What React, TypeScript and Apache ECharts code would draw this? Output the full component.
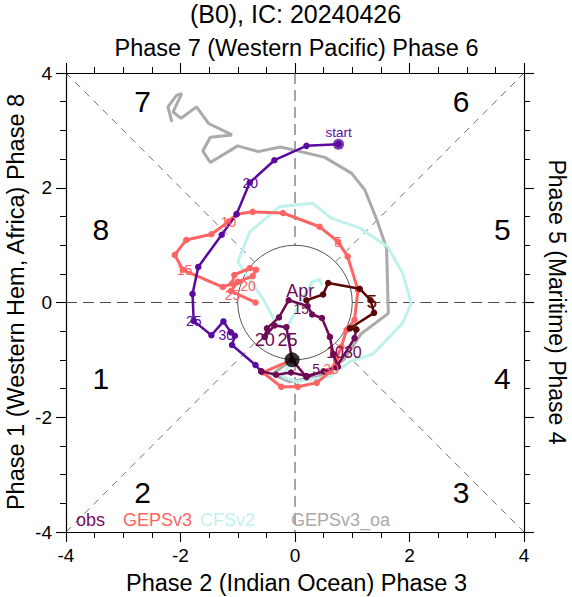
import React, { useEffect, useRef } from "react";
import * as echarts from "echarts";

const FONT = "'Liberation Sans', Arial, Helvetica, sans-serif";

const TITLE = "(B0), IC: 20240426";
const TOP_LABEL = "Phase 7 (Western Pacific) Phase 6";
const BOTTOM_LABEL = "Phase 2 (Indian Ocean) Phase 3";
const LEFT_LABEL = "Phase 1 (Western Hem, Africa) Phase 8";
const RIGHT_LABEL = "Phase 5 (Maritime) Phase 4";

const AXIS_MIN = -4;
const AXIS_MAX = 4;
const AXIS_STEP = 2;

const legendNames = ["obs", "GEPSv3", "CFSv2", "GEPSv3_oa"];

// observed RMM track, one segment per month
const obsMarch: number[][] = [
  [0.76, 2.76], [0.2, 2.73], [-0.36, 2.48], [-0.79, 2.09], [-1.02, 1.54], [-1.28, 1.18],
  [-1.69, 0.62], [-1.79, 0.15], [-1.77, -0.32], [-1.46, -0.57], [-1.25, -0.33], [-1.12, -0.52],
  [-1.05, -0.58], [-1.1, -0.74], [-0.69, -1.09], [-0.59, -1.2],
];
const obsApril: number[][] = [
  [-0.59, -1.2], [-0.33, -1.26], [-0.07, -1.22], [0.2, -1.28], [0.5, -1.2], [0.75, -1.12],
  [0.67, -0.9], [0.61, -0.6], [0.47, -0.27], [0.3, -0.21], [0.22, -0.06], [-0.11, 0.04],
  [-0.28, -0.26], [-0.49, -0.45], [-0.53, -0.6], [-0.36, -0.4], [-0.15, -0.43], [-0.05, -1.0],
  [0.2, -1.3], [0.72, -1.13], [1.04, -0.62], [1.07, -0.47],
];
const obsMay: number[][] = [
  [1.07, -0.47], [0.96, -0.45], [1.38, -0.18], [1.32, 0.04], [1.13, 0.24], [0.58, 0.34],
  [0.49, 0.14], [0.2, 0.04],
];
const icPoint: number[] = [-0.05, -1.0];

// forecasts
const gepsv3: number[][] = [
  [-0.05, -1.0], [-0.56, -1.22], [-0.24, -1.47], [0.05, -1.47], [0.38, -1.4], [0.62, -1.2],
  [0.72, -1.0], [0.81, -0.77], [0.9, -0.48], [1.04, -0.3], [1.1, 0.22], [0.92, 0.8],
  [0.75, 1.06], [0.43, 1.32], [-0.21, 1.56], [-0.74, 1.58], [-1.02, 1.54], [-1.16, 1.41],
  [-1.46, 1.19], [-1.9, 1.09], [-2.1, 0.83], [-1.96, 0.57], [-1.26, 0.27], [-1.1, 0.33],
  [-1.06, 0.48], [-0.79, 0.6], [-0.68, 0.57], [-0.74, 0.46], [-1.0, 0.36], [-1.12, 0.2],
  [-0.69, 0.0],
];
const cfsv2: number[][] = [
  [-0.05, -1.0], [-0.22, -1.29], [0.02, -1.38], [0.6, -1.29], [0.98, -1.02], [1.36, -0.9],
  [1.88, -0.36], [2.03, -0.01], [1.88, 0.51], [1.62, 0.97], [1.13, 1.3], [0.63, 1.47],
  [0.31, 1.73], [-0.27, 1.67], [-0.79, 1.23], [-1.0, 0.71], [-0.85, 0.48], [-0.55, 0.05],
  [-0.33, -0.36], [-0.15, -0.45], [0.3, 0.36], [0.43, 0.4], [0.47, 0.3],
];
const gepsv3oa: number[][] = [
  [-0.05, -1.0], [-0.4, -1.25], [-0.1, -1.38], [0.4, -1.3], [0.85, -1.0], [1.15, -0.55],
  [1.63, -0.19], [1.6, 0.94], [1.43, 1.44], [1.22, 1.96], [0.99, 2.25], [0.52, 2.53],
  [-0.03, 2.66], [-0.26, 2.71], [-0.64, 2.63], [-1.0, 2.73], [-1.48, 2.44], [-1.61, 2.64],
  [-1.48, 2.88], [-1.1, 2.92], [-1.51, 3.12], [-1.72, 3.41], [-1.99, 3.21], [-2.13, 3.32],
  [-1.98, 3.64], [-2.07, 3.61], [-2.22, 3.41], [-2.15, 3.15],
];

// day labels [text, x, y]
const marchLabels: [string, number, number][] = [
  ["20", -0.78, 2.09], ["25", -1.77, -0.33], ["30", -1.2, -0.56],
];
const startLabel: [string, number, number] = ["start", 0.76, 2.96];
const aprilLabels: [string, number, number][] = [
  ["Apr", 0.09, 0.2], ["20", -0.53, -0.65], ["25", -0.13, -0.65],
];
const aprilMidLabels: [string, number, number][] = [["10", 0.7, -0.88], ["30", 1.01, -0.88]];
const aprilSmallLabels: [string, number, number][] = [["15", 0.11, -0.12], ["5", 0.37, -1.16]];
const mayLabels: [string, number, number][] = [["5", 1.34, 0.02]];
const gepsLabels: [string, number, number][] = [
  ["5", 0.75, 1.06], ["10", -1.16, 1.41], ["15", -1.93, 0.57], ["25", -1.09, 0.13],
  ["20", -0.82, 0.28], ["30", 0.63, -1.16],
];
const phaseLabels: [string, number, number][] = [
  ["7", -2.66, 3.51], ["6", 2.9, 3.51], ["8", -3.39, 1.28], ["5", 3.62, 1.28],
  ["1", -3.39, -1.33], ["4", 3.62, -1.33], ["2", -2.66, -3.32], ["3", 2.9, -3.32],
];

// guide lines
const axisSegments: number[][][] = [
  [[-4, 0], [-1, 0]], [[1, 0], [4, 0]], [[0, 4], [0, 1]], [[0, -1], [0, -4]],
];
const diagonalSegments: number[][][] = [
  [[-4, 4], [-0.71, 0.71]], [[0.71, 0.71], [4, 4]], [[-4, -4], [-0.71, -0.71]], [[0.71, -0.71], [4, -4]],
];

const C_MARCH = "#5a0a9e";
const C_APRIL = "#6e0a55";
const C_MAY = "#5a0606";
const C_OBS_LEGEND = "#7a0a5e";
const C_GEPS = "#ff6464";
const C_CFS = "#bff2ec";
const C_OA = "#aaaaaa";

function axisCommon(showLabel: boolean) {
  return {
    type: "value" as const,
    min: AXIS_MIN,
    max: AXIS_MAX,
    interval: AXIS_STEP,
    axisLine: { show: true, onZero: false, lineStyle: { color: "#000", width: 1.2 } },
    axisTick: { show: true, inside: false, length: 10, lineStyle: { color: "#000", width: 1.1 } },
    minorTick: { show: true, splitNumber: 4, length: 6, lineStyle: { color: "#000", width: 1 } },
    splitLine: { show: false },
    minorSplitLine: { show: false },
    axisLabel: { show: showLabel, color: "#000", fontSize: 19, fontFamily: FONT, margin: 14 },
  };
}

export default function App() {
  const ref = useRef<HTMLDivElement>(null);
  useEffect(() => {
    const el = ref.current!;
    const chart = echarts.init(el, null, { renderer: "svg" });

    const trackSeries = (data: number[][], color: string, width: number, symbols: boolean, z: number) => ({
      type: "line",
      data,
      xAxisIndex: 0,
      yAxisIndex: 0,
      symbol: "circle",
      symbolSize: 6.5,
      showSymbol: symbols,
      showAllSymbol: true,
      lineStyle: { color, width },
      itemStyle: { color },
      z,
      silent: true,
      clip: false,
    });

    const series: any[] = [];
    axisSegments.forEach((seg) =>
      series.push({
        type: "line", data: seg, showSymbol: false, silent: true, z: 1,
        lineStyle: { color: "#4a4a4a", width: 1, type: [11, 6] },
      })
    );
    diagonalSegments.forEach((seg) =>
      series.push({
        type: "line", data: seg, showSymbol: false, silent: true, z: 1,
        lineStyle: { color: "#333", width: 0.7, type: [7, 6] },
      })
    );
    series.push(trackSeries(gepsv3oa, C_OA, 3, false, 3));
    series.push(trackSeries(cfsv2, C_CFS, 3, false, 4));
    series.push(trackSeries(gepsv3, C_GEPS, 3, true, 5));
    series.push(trackSeries(obsMarch, C_MARCH, 2.5, true, 6));
    series.push(trackSeries(obsApril, C_APRIL, 2.5, true, 7));
    series.push(trackSeries(obsMay, C_MAY, 2.5, true, 8));
    series.push({
      type: "scatter", data: [obsMarch[0]], symbolSize: 11, itemStyle: { color: C_MARCH }, z: 9, silent: true,
    });
    series.push({
      type: "scatter", data: [icPoint], symbolSize: 15, itemStyle: { color: "#000" }, z: 9, silent: true,
    });

    chart.setOption({
      animation: false,
      backgroundColor: "#fff",
      grid: { left: 66, top: 73, width: 458, height: 459, containLabel: false, outerBoundsMode: "none" },
      xAxis: [
        { ...axisCommon(true), position: "bottom" },
        { ...axisCommon(false), position: "top" },
      ],
      yAxis: [
        { ...axisCommon(true), position: "left" },
        { ...axisCommon(false), position: "right" },
      ],
      series,
    });

    const toPx = (p: number[]) => chart.convertToPixel({ gridIndex: 0 }, p) as number[];
    const c0 = toPx([0, 0]);
    const c1 = toPx([1, 0]);
    const r = Math.abs(c1[0] - c0[0]);

    const txt = (text: string, x: number, y: number, color: string, size: number, extra: any = {}) => ({
      type: "text",
      x,
      y,
      z: 100,
      silent: true,
      ...extra,
      style: {
        text,
        fill: color,
        fontSize: size,
        fontFamily: FONT,
        align: extra.align || "center",
        verticalAlign: "middle",
        textAlign: extra.align || "center",
        textVerticalAlign: "middle",
      },
    });
    const dataTexts = (list: [string, number, number][], color: string, size: number) =>
      list.map(([t, x, y]) => {
        const p = toPx([x, y]);
        return txt(t, p[0], p[1], color, size);
      });

    const graphics: any[] = [
      {
        type: "circle",
        z: 1,
        silent: true,
        shape: { cx: c0[0], cy: c0[1], r },
        style: { fill: "none", stroke: "#555", lineWidth: 1 },
      },
      txt(TITLE, 295.5, 14, "#000", 25),
      txt(TOP_LABEL, 296.5, 48, "#000", 23.5),
      txt(BOTTOM_LABEL, 296.5, 583, "#000", 23.5),
      txt(LEFT_LABEL, 16, 302, "#000", 23.5, { rotation: Math.PI / 2 }),
      txt(RIGHT_LABEL, 557, 302, "#000", 23, { rotation: -Math.PI / 2 }),
      ...dataTexts(phaseLabels, "#000", 30),
      ...dataTexts(marchLabels, C_MARCH, 14),
      ...dataTexts([startLabel], C_MARCH, 13.5),
      ...dataTexts(aprilLabels, C_APRIL, 18),
      ...dataTexts(aprilMidLabels, C_APRIL, 16),
      ...dataTexts(aprilSmallLabels, C_APRIL, 14),
      ...dataTexts(mayLabels, C_MAY, 19),
      ...dataTexts(gepsLabels, C_GEPS, 14),
    ];
    const legendColors = [C_OBS_LEGEND, C_GEPS, C_CFS, C_OA];
    const legendX = [76, 123, 200, 291];
    legendNames.forEach((n, i) => {
      graphics.push(txt(n, legendX[i], 520, legendColors[i], 18, { align: "left" }));
    });

    chart.setOption({ graphic: graphics });
    return () => chart.dispose();
  }, []);
  return (
    <div
      ref={ref}
      style={{ position: "absolute", left: 0, top: 0, width: 572, height: 597, background: "#fff" }}
    />
  );
}
